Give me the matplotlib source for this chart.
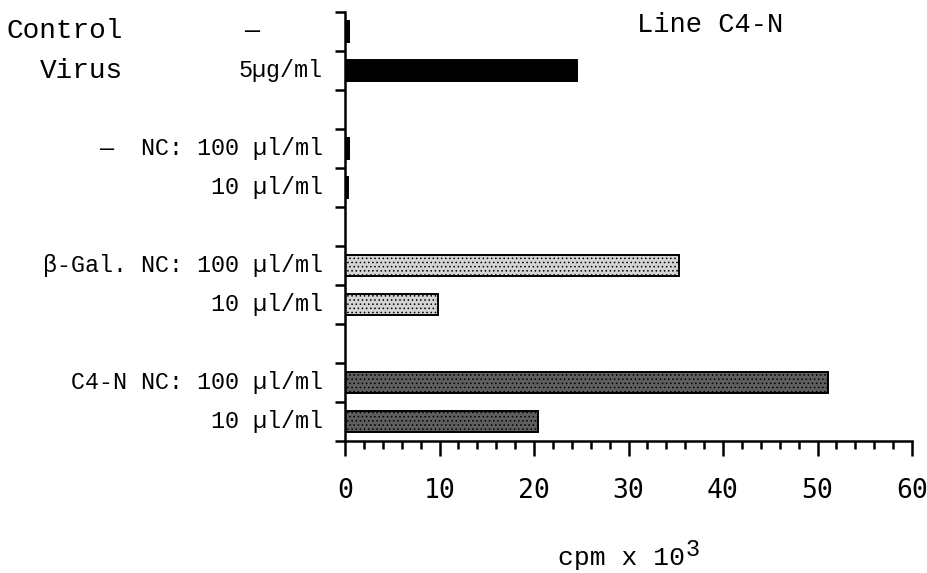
import matplotlib
matplotlib.use("Agg")
import matplotlib.pyplot as plt
from matplotlib.ticker import MultipleLocator

# --- data (cpm x 10^3) ---
rows = [0, 1, 3, 4, 6, 7, 9, 10]          # slot index from top
values = [0.4, 24.5, 0.4, 0.3, 35.3, 9.8, 51.1, 20.4]
groups = ["ctrl", "virus", "nc", "nc", "bgal", "bgal", "c4n", "c4n"]
row_labels = ["\u2014", "5\u00b5g/ml",
              "\u2014  NC: 100 \u00b5l/ml", "10 \u00b5l/ml",
              "\u03b2-Gal. NC: 100 \u00b5l/ml", "10 \u00b5l/ml",
              "C4-N NC: 100 \u00b5l/ml", "10 \u00b5l/ml"]
side_labels = {0: "Control", 1: "Virus"}
xticks = [0, 10, 20, 30, 40, 50, 60]

face = {"ctrl": "black", "virus": "black", "nc": "black",
        "bgal": "#d4d4d4", "c4n": "#5e5e5e"}
hatch = {"ctrl": None, "virus": None, "nc": None, "bgal": "....", "c4n": "...."}

mono = "Liberation Mono"
plt.rcParams["font.family"] = [mono, "DejaVu Sans"]
plt.rcParams["hatch.linewidth"] = 0.6

fig = plt.figure(figsize=(9.27, 5.73), dpi=100)
ax = fig.add_axes([345 / 927, 1 - 441 / 573, 567 / 927, 429 / 573])

for r, v, g in zip(rows, values, groups):
    ax.barh(r + 0.5, v, height=0.55, color=face[g], edgecolor="black",
            linewidth=1.4, hatch=hatch[g], zorder=2)

ax.set_xlim(0, 60)
ax.set_ylim(11, 0)
ax.spines[["top", "right"]].set_visible(False)
ax.spines["left"].set_linewidth(1.8)
ax.spines["bottom"].set_linewidth(1.8)

ax.set_yticks(range(12))
ax.set_yticklabels([])
ax.tick_params(axis="y", direction="out", length=7, width=1.8)

ax.set_xticks(xticks)
ax.xaxis.set_minor_locator(MultipleLocator(2))
ax.tick_params(axis="x", which="major", direction="out", length=11, width=1.8,
               labelsize=19, pad=16)
ax.tick_params(axis="x", which="minor", direction="out", length=6, width=1.8)
for t in ax.get_xticklabels():
    t.set_fontfamily("DejaVu Sans Mono")

# row labels
tr = ax.get_yaxis_transform()
for r, lab in zip(rows, row_labels):
    if r == 0:
        ax.text(-0.164, r + 0.5, lab, transform=tr, ha="center", va="center",
                fontsize=18)
    else:
        ax.text(-0.039, r + 0.5, lab, transform=tr, ha="right", va="center",
                fontsize=16.8)
for r, lab in side_labels.items():
    ax.text(-0.3915, r + 0.5, lab, transform=tr, ha="right", va="center",
            fontsize=20)

ax.text(0.515, 0.97, "Line C4-N", transform=ax.transAxes, ha="left",
        va="center", fontsize=19.5)
fig.text(558 / 927, 1 - 565 / 573, "cpm x 10", ha="left",
         va="baseline", fontsize=19)
fig.text(686 / 927, 1 - 556 / 573, "3", ha="left",
         va="baseline", fontsize=17)

fig.savefig("out.png", dpi=100)
